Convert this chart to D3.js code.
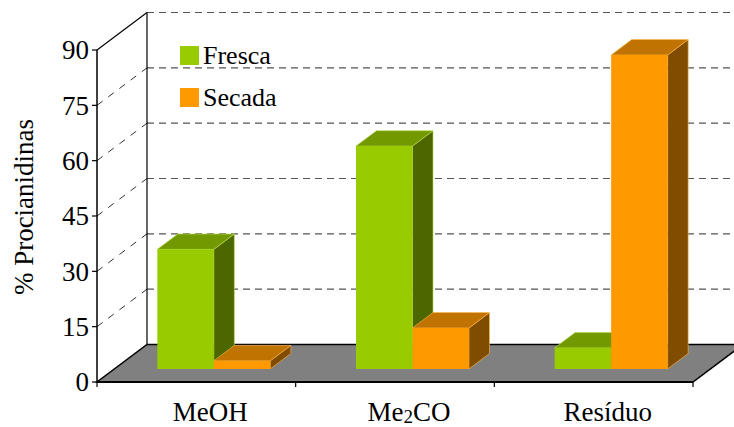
<!DOCTYPE html>
<meta charset="utf-8">
<style>
  body { margin: 0; background: #fff; }
</style>
<body>
<svg id="chart" width="734" height="427" font-family="'Liberation Serif', 'Times New Roman', Times, 'DejaVu Serif', serif"></svg>
<script src="https://d3js.org/d3.v7.min.js"></script>
<script>
  // data
  var categories = ["MeOH", "Me2CO", "Resíduo"];
  var series = ["Fresca", "Secada"];
  var fresca = [32.4, 60.4, 5.7];
  var secada = [2.2, 11.1, 85.1];
  var yTicks = [0, 15, 30, 45, 60, 75, 90];

  var colors = {
    Fresca: { front: "#99cc00", top: "#739900", side: "#4c6600", edge: "#b8dc4a" },
    Secada: { front: "#ff9900", top: "#c07300", side: "#804d00", edge: "#ffb84d" }
  };

  // 3d projection: depth 0 = front plane, 1 = back wall
  var depthX = 50, depthY = 37.5;
  var barD0 = 0.35, barD1 = 0.76;

  var svg = d3.select("#chart");

  var x0 = d3.scaleBand().domain(categories).range([97, 693]);
  var x1 = d3.scaleBand().domain(series).range([0, x0.bandwidth()]).paddingOuter(0.758);
  var y = d3.scaleLinear().domain([0, 90]).range([382, 50]);

  function px(x, d) { return x + d * depthX; }
  function py(v, d) { return y(v) - d * depthY; }

  var xLeft = 97, xRight = 693;

  // back wall gridlines
  svg.append("g").selectAll("line")
    .data(yTicks.filter(t => t > 0))
    .enter().append("line")
    .attr("x1", px(xLeft, 1)).attr("x2", px(xRight, 1))
    .attr("y1", d => py(d, 1)).attr("y2", d => py(d, 1))
    .attr("stroke", "#555").attr("stroke-width", 1.2)
    .attr("stroke-dasharray", "7,5");

  // side wall gridlines
  svg.append("g").selectAll("line")
    .data(yTicks.filter(t => t > 0 && t < 90))
    .enter().append("line")
    .attr("x1", px(xLeft, 0)).attr("x2", px(xLeft, 1))
    .attr("y1", d => py(d, 0)).attr("y2", d => py(d, 1))
    .attr("stroke", "#333").attr("stroke-width", 1)
    .attr("stroke-dasharray", "7,7");

  // wall edges
  svg.append("line")
    .attr("x1", px(xLeft, 0)).attr("y1", py(90, 0))
    .attr("x2", px(xLeft, 1)).attr("y2", py(90, 1))
    .attr("stroke", "#000").attr("stroke-width", 1.2);
  svg.append("line")
    .attr("x1", px(xLeft, 1)).attr("y1", py(90, 1))
    .attr("x2", px(xLeft, 1)).attr("y2", py(0, 1))
    .attr("stroke", "#000").attr("stroke-width", 1.2);

  // floor
  var floorPts = [[px(xLeft, 0), py(0, 0)], [px(xRight, 0), py(0, 0)],
                  [px(xRight, 1), py(0, 1)], [px(xLeft, 1), py(0, 1)]];
  svg.append("polygon")
    .attr("points", floorPts.map(p => p.join(",")).join(" "))
    .attr("fill", "#808080").attr("stroke", "#000").attr("stroke-width", 1.5);
  svg.append("line")
    .attr("x1", px(xLeft, 0)).attr("x2", px(xRight, 0))
    .attr("y1", py(0, 0)).attr("y2", py(0, 0))
    .attr("stroke", "#000").attr("stroke-width", 2);

  // bars
  var bars = [];
  categories.forEach(function(c, i) {
    bars.push({ cat: c, s: "Fresca", v: fresca[i] });
    bars.push({ cat: c, s: "Secada", v: secada[i] });
  });

  var barG = svg.append("g");
  bars.forEach(function(b) {
    var xa = x0(b.cat) + x1(b.s), xb = xa + x1.bandwidth();
    var col = colors[b.s];
    var front = [[px(xa, barD0), py(0, barD0)], [px(xb, barD0), py(0, barD0)],
                 [px(xb, barD0), py(b.v, barD0)], [px(xa, barD0), py(b.v, barD0)]];
    var top = [[px(xa, barD0), py(b.v, barD0)], [px(xb, barD0), py(b.v, barD0)],
               [px(xb, barD1), py(b.v, barD1)], [px(xa, barD1), py(b.v, barD1)]];
    var side = [[px(xb, barD0), py(0, barD0)], [px(xb, barD1), py(0, barD1)],
                [px(xb, barD1), py(b.v, barD1)], [px(xb, barD0), py(b.v, barD0)]];
    var g = barG.append("g");
    g.append("polygon").attr("points", side.map(p => p.join(",")).join(" "))
      .attr("fill", col.side).attr("stroke", col.edge).attr("stroke-width", 0.6);
    g.append("polygon").attr("points", top.map(p => p.join(",")).join(" "))
      .attr("fill", col.top).attr("stroke", col.edge).attr("stroke-width", 0.6);
    g.append("polygon").attr("points", front.map(p => p.join(",")).join(" "))
      .attr("fill", col.front);
  });

  // front value axis
  svg.append("line")
    .attr("x1", xLeft).attr("x2", xLeft)
    .attr("y1", y(0)).attr("y2", y(90))
    .attr("stroke", "#000").attr("stroke-width", 1.5);
  var yt = svg.append("g").selectAll("g").data(yTicks).enter().append("g");
  yt.append("line")
    .attr("x1", xLeft - 5).attr("x2", xLeft)
    .attr("y1", d => y(d)).attr("y2", d => y(d))
    .attr("stroke", "#000").attr("stroke-width", 1.2);
  yt.append("text")
    .attr("x", 89).attr("y", d => y(d)).attr("dy", "0.34em")
    .attr("text-anchor", "end").attr("font-size", 27)
    .text(d => d);

  // category ticks
  svg.append("g").selectAll("line")
    .data(categories.map(c => x0(c)).concat([xRight]))
    .enter().append("line")
    .attr("x1", d => d).attr("x2", d => d)
    .attr("y1", y(0)).attr("y2", y(0) + 5)
    .attr("stroke", "#000").attr("stroke-width", 1.2);

  var catText = svg.append("g").selectAll("text")
    .data(categories).enter().append("text")
    .attr("x", d => x0(d) + x0.bandwidth() / 2 + 14)
    .attr("y", 421)
    .attr("text-anchor", "middle").attr("font-size", 27);
  catText.each(function(d) {
    var t = d3.select(this);
    if (d === "Me2CO") {
      t.append("tspan").text("Me");
      t.append("tspan").attr("font-size", 19).attr("dy", 2).text("2");
      t.append("tspan").attr("dy", -2).text("CO");
    } else {
      t.text(d);
    }
  });

  // y title
  svg.append("text")
    .attr("transform", "translate(33,207) rotate(-90)")
    .attr("text-anchor", "middle").attr("font-size", 27)
    .text("% Procianidinas");

  // legend
  var leg = svg.append("g").selectAll("g").data(series).enter().append("g")
    .attr("transform", (d, i) => "translate(180," + (46 + i * 42) + ")");
  leg.append("rect").attr("width", 19).attr("height", 19)
    .attr("fill", d => colors[d].front);
  leg.append("text").attr("x", 23).attr("y", 18).attr("font-size", 26)
    .text(d => d);
</script>
</body>
